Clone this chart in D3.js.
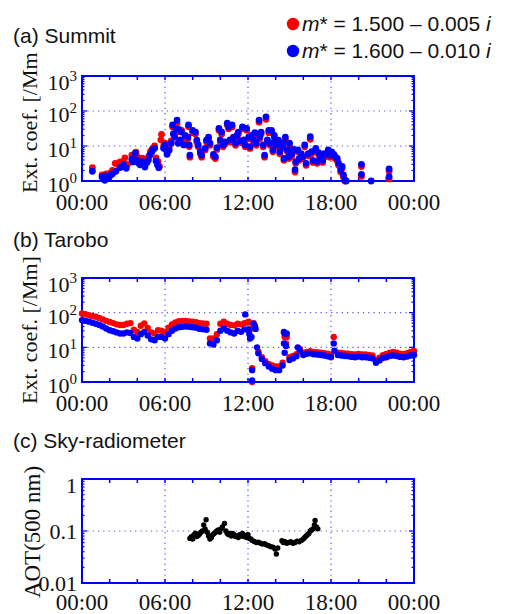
<!DOCTYPE html>
<html>
<head>
<meta charset="utf-8">
<script src="https://cdn.jsdelivr.net/npm/d3@7"></script>
<style>
  body { margin: 0; background: #fff; }
</style>
</head>
<body>
<div id="chart-area"></div>
<script>
const WIDTH = 507
const HEIGHT = 614
const LEFT = 82
const RIGHT = 414

// Time axis
const hourTicks = [0, 6, 12, 18, 24]
const hourLabels = ["00:00", "06:00", "12:00", "18:00", "00:00"]

const panelTitles = ["(a) Summit", "(b) Tarobo", "(c) Sky-radiometer"]
const legendLabels = [
    { m: "1.500", k: "0.005", color: "#ff0000" },
    { m: "1.600", k: "0.010", color: "#0000ff" }
]

// (a) Summit, [hour, ext. coef. /Mm]
const summitRed = [
    [0.75,2.4],[1.45,1.5],[1.6,1.3],[1.75,1.6],[1.95,1.5],[2.05,1.7],[2.2,2.0],[2.4,3.2],[2.6,3.0],[2.75,3.5],
    [2.95,3.6],[3.1,4.6],[3.3,3.0],[3.6,5.5],[3.75,4.4],[3.9,6.7],[4.0,5.0],[4.2,3.8],[4.35,4.5],[4.5,3.3],
    [4.7,4.4],[4.85,5.2],[4.95,7.0],[5.1,8.5],[5.25,10],[5.35,4.6],[5.5,3.6],[5.6,2.6],[5.7,15],[5.75,21.5],
    [5.9,10],[6.0,12],[6.15,7],[6.3,9],[6.45,14],[6.55,35],[6.7,20],[6.8,30],[6.87,45],[7.0,26],
    [7.1,14],[7.2,28],[7.35,12],[7.45,17],[7.7,36],[7.65,16],[7.75,9.6],[7.8,4.8],[8.0,24],[8.2,22],
    [8.3,13],[8.4,9.5],[8.55,6.0],[8.65,4.8],[8.9,7.7],[9.0,13],[9.15,16],[9.25,10.5],[9.5,5.0],[9.64,4.4],
    [9.75,8],[9.9,28],[10.0,13],[10.1,22],[10.2,9.5],[10.35,11.5],[10.5,40],[10.6,31],[10.7,13],[10.85,35],
    [10.95,16],[11.1,10.5],[11.2,17.5],[11.3,22],[11.45,12.5],[11.6,31],[11.7,13],[11.8,9.5],[11.9,28],[12.05,16],
    [12.15,8.5],[12.25,17.5],[12.4,13],[12.5,21],[12.6,10.5],[12.8,48],[12.85,16],[12.95,22],[13.1,9.5],[13.2,4.8],
    [13.3,58],[13.4,13],[13.5,24],[13.6,10.5],[13.7,24],[13.8,6.8],[13.9,17.5],[13.95,13],[14.05,9.5],[14.2,13],
    [14.3,6.0],[14.45,8.5],[14.55,10.5],[14.6,3.9],[14.7,15.5],[14.85,6.8],[14.95,4.4],[15.0,10.5],[15.15,5.0],[15.3,7],
    [15.4,1.8],[15.45,3.2],[15.6,6.8],[15.7,3.9],[15.85,5.2],[15.95,4.4],[16.1,9.5],[16.2,2.8],[16.35,5.2],[16.5,15.5],
    [16.6,6.0],[16.7,3.4],[16.9,7.5],[17.0,3.2],[17.1,5.7],[17.2,4.4],[17.4,3.4],[17.5,5.2],[17.6,5.0],[17.8,6.8],
    [17.9,4.8],[18.05,6.0],[18.2,5.0],[18.3,4.4],[18.45,3.8],[18.55,2.8],[18.7,1.8],[18.8,2.3],[18.9,1.3],[19.0,1.0],
    [20.2,2.6],[20.2,1.35],[22.2,1.9],[22.2,1.15]
]
const summitBlue = [
    [0.75,1.9],[1.45,1.3],[1.55,1.15],[1.65,1.05],[1.7,1.4],[1.8,1.2],[1.95,1.25],[2.1,1.5],[2.2,1.6],[2.45,1.9],
    [2.75,2.4],[3.0,2.9],[3.2,2.3],[3.6,4.2],[3.7,3.5],[3.85,6.2],[3.95,4.0],[4.1,3.2],[4.2,2.9],[4.35,3.6],
    [4.45,3.2],[4.55,2.5],[4.7,3.4],[4.8,4.0],[4.9,5.5],[5.05,6.8],[5.1,7.7],[5.25,8.6],[5.35,3.7],[5.45,2.9],
    [5.55,2.4],[5.9,8.6],[6.0,10.7],[6.1,7.5],[6.15,5.8],[6.3,7.6],[6.45,12],[6.55,40],[6.6,22],[6.7,18],
    [6.8,30],[6.87,55],[6.95,12],[7.0,30],[7.1,15],[7.2,25],[7.35,10.7],[7.45,20],[7.7,40],[7.65,18],
    [7.75,10.7],[7.8,5.5],[8.0,28],[8.2,25],[8.3,14.8],[8.4,10.7],[8.55,6.9],[8.65,5.5],[8.9,8.6],[9.0,14.8],
    [9.15,18],[9.25,12],[9.5,5.8],[9.64,5.0],[9.75,9],[9.9,32],[10.0,15],[10.1,25],[10.2,10.7],[10.35,13],
    [10.5,45],[10.6,35],[10.7,15],[10.85,40],[10.95,18],[11.1,12],[11.2,20],[11.3,25],[11.45,14],[11.6,35],
    [11.7,15],[11.8,10.7],[11.9,32],[12.05,18],[12.15,9.6],[12.25,20],[12.4,15],[12.5,24],[12.6,12],[12.8,55],
    [12.85,18],[12.95,25],[13.1,10.7],[13.2,5.5],[13.3,68],[13.4,15],[13.5,28],[13.6,12],[13.7,28],[13.8,7.7],
    [13.9,20],[13.95,15],[14.05,10.7],[14.2,14.8],[14.3,6.9],[14.45,9.6],[14.55,12],[14.6,4.4],[14.7,18],[14.85,7.7],
    [14.95,5],[15.0,12],[15.15,5.8],[15.3,8],[15.4,2.1],[15.45,3.6],[15.6,7.7],[15.7,4.4],[15.85,6],[15.95,5],
    [16.1,10.7],[16.2,3.2],[16.35,6],[16.5,18.5],[16.6,6.9],[16.7,3.9],[16.9,8.6],[17.0,3.6],[17.1,6.5],[17.2,5],
    [17.4,3.9],[17.5,6],[17.6,5.8],[17.8,7.7],[17.9,5.5],[18.05,6.8],[18.2,5.8],[18.3,5],[18.45,4.4],[18.55,3.2],
    [18.7,2.1],[18.8,2.6],[18.9,1.5],[19.0,1.07],[19.1,1.0],[20.2,3.0],[20.2,1.55],[20.9,1.0],[22.2,2.2],[22.2,1.33]
]

// (b) Tarobo, [hour, ext. coef. /Mm]
const taroboRed = [
    [0,95],[0.25,90],[0.5,84],[0.75,80],[1,76],[1.25,70],[1.5,64],[1.75,58],[2,54],[2.25,50],
    [2.5,46],[2.75,44],[3,44],[3.25,48],[3.5,50],[3.75,32],[4,28],[4.25,42],[4.5,49],[4.75,36],
    [5,27],[5.25,25],[5.5,31],[5.75,30],[6,28],[6.25,37],[6.5,46],[6.75,52],[7,57],[7.25,58],
    [7.5,58],[7.75,56],[8,55],[8.25,53],[8.5,50],[8.75,49],[9,48],[9.25,18],[9.5,18],[9.75,24],
    [10,48],[10.25,55],[10.5,48],[10.75,44],[11,43],[11.25,48],[11.5,46],[11.75,50],[12,52],[12.05,55],
    [12.25,35],[12.3,2.5],[12.3,1.0],[12.4,50],[12.5,42],[12.75,7.5],[13,5.2],[13.25,4.0],[13.5,3.3],[13.75,3.0],
    [14,2.8],[14.25,2.8],[14.5,3.6],[14.6,27],[14.65,20],[14.75,13],[14.8,20],[15,5.2],[15.25,5.6],[15.5,6.3],
    [15.75,9.0],[16,7.0],[16.25,7.4],[16.5,7.7],[16.75,7.4],[17,7.2],[17.25,7.0],[17.5,6.8],[17.75,6.5],[18,6.2],
    [18.2,20],[18.5,7.0],[18.75,6.9],[19,6.7],[19.25,6.5],[19.5,6.3],[19.75,6.2],[20,6.4],[20.25,6.2],[20.5,6.2],
    [20.75,6.0],[21,5.8],[21.25,4.3],[21.5,5.0],[21.75,5.9],[22,6.4],[22.25,7.0],[22.5,7.4],[22.75,7.0],[23,6.6],
    [23.25,6.4],[23.5,6.8],[23.75,7.4],[24,7.8]
]
const taroboBlue = [
    [0,61],[0.25,58],[0.5,55],[0.75,51],[1,48],[1.25,44],[1.5,40],[1.75,35],[2,31],[2.25,29],
    [2.5,27],[2.75,25],[3,25],[3.25,27],[3.5,26],[3.75,20],[4,18],[4.25,24],[4.5,28],[4.75,22],
    [5,17],[5.25,16],[5.5,20],[5.75,20],[6,18],[6.25,24],[6.5,30],[6.75,35],[7,38],[7.25,39],
    [7.5,40],[7.75,39],[8,38],[8.25,37],[8.5,34],[8.75,33],[9,32],[9.25,13],[9.5,12],[9.75,16],
    [10,30],[10.25,35],[10.5,30],[10.75,27],[11,25],[11.25,30],[11.5,28],[11.75,33],[11.8,89],[12,33],
    [12.05,30],[12.1,24],[12.15,18],[12.25,20],[12.3,2.2],[12.3,1.1],[12.4,48],[12.5,38],[12.55,34],[12.65,10],
    [12.75,6.7],[13,4.6],[13.25,3.5],[13.5,2.8],[13.75,2.4],[14,2.2],[14.25,2.2],[14.5,3.0],[14.6,28],[14.65,25],
    [14.6,13],[14.65,7],[14.75,11],[14.8,25],[15,4.3],[15.25,4.8],[15.5,5.5],[15.6,10],[15.75,8],[16,6.0],
    [16.25,6.5],[16.5,6.7],[16.75,6.3],[17,6.2],[17.25,6.0],[17.5,5.8],[17.75,5.5],[18,5.2],[18.2,13],[18.25,8],
    [18.5,6],[18.75,5.8],[19,5.6],[19.25,5.5],[19.5,5.3],[19.75,5.2],[20,5.4],[20.25,5.2],[20.5,5.2],[20.75,5.0],
    [21,4.8],[21.25,3.6],[21.5,4.2],[21.75,4.9],[22,5.2],[22.25,5.6],[22.5,5.8],[22.75,5.6],[23,5.3],[23.25,5.2],
    [23.5,5.4],[23.75,5.8],[24,6.0]
]

// (c) Sky-radiometer, [hour, AOT at 500 nm]
const skyAot = [
    [7.8,0.072],[7.9,0.078],[8.0,0.07],[8.1,0.085],[8.2,0.091],[8.3,0.078],[8.4,0.082],[8.5,0.088],[8.6,0.095],[8.7,0.1],
    [8.8,0.13],[8.9,0.11],[8.97,0.165],[9.05,0.095],[9.15,0.08],[9.25,0.07],[9.35,0.075],[9.45,0.085],[9.55,0.09],[9.65,0.095],
    [9.75,0.1],[9.85,0.105],[9.95,0.095],[10.05,0.11],[10.15,0.12],[10.3,0.14],[10.4,0.1],[10.5,0.09],[10.6,0.085],[10.7,0.09],
    [10.8,0.08],[10.9,0.09],[11.0,0.085],[11.1,0.078],[11.2,0.08],[11.3,0.075],[11.4,0.085],[11.5,0.08],[11.6,0.09],[11.7,0.078],
    [11.8,0.082],[11.9,0.075],[12.0,0.085],[12.1,0.072],[12.2,0.07],[12.3,0.066],[12.45,0.063],[12.6,0.06],[12.75,0.061],[12.9,0.058],
    [13.05,0.056],[13.2,0.057],[13.35,0.054],[13.5,0.052],[13.65,0.05],[13.8,0.049],[13.95,0.045],[14.05,0.036],[14.15,0.047],
    [14.45,0.065],[14.55,0.06],[14.65,0.063],[14.8,0.058],[14.95,0.06],[15.1,0.062],[15.25,0.058],[15.4,0.06],[15.55,0.064],[15.7,0.062],
    [15.85,0.066],[16.0,0.07],[16.1,0.075],[16.2,0.08],[16.3,0.085],[16.4,0.09],[16.5,0.1],[16.6,0.105],[16.7,0.11],[16.8,0.13],
    [16.85,0.16],[16.95,0.12],[17.05,0.11]
]

const SERIF = "'Liberation Serif', 'Times New Roman', serif"
const SANS = "'Liberation Sans', Arial, sans-serif"
const BLUE = "#0000ff"

const svg = d3.select("#chart-area").append("svg")
    .attr("width", WIDTH)
    .attr("height", HEIGHT)

svg.append("rect").attr("width", WIDTH).attr("height", HEIGHT).attr("fill", "#fff")

const x = d3.scaleLinear().domain([0, 24]).range([LEFT, RIGHT])

const isDecade = t => Math.abs(Math.log10(t) - Math.round(Math.log10(t))) < 1e-9

function drawPanel(cfg) {
    const y = d3.scaleLog().domain(cfg.domain).range([cfg.bottom, cfg.top])
    const g = svg.append("g")
    const allTicks = y.ticks()
    const majors = allTicks.filter(isDecade)
    const minors = allTicks.filter(t => !isDecade(t))

    // grid (dotted)
    g.selectAll(".vgrid").data(hourTicks.slice(1, -1)).enter().append("line")
        .attr("x1", d => x(d)).attr("x2", d => x(d))
        .attr("y1", cfg.top).attr("y2", cfg.bottom)
        .attr("stroke", "#5a5aff").attr("stroke-width", 1.2)
        .attr("stroke-dasharray", "1.3,4")
    g.selectAll(".hgrid").data(majors.slice(1, -1)).enter().append("line")
        .attr("x1", LEFT).attr("x2", RIGHT)
        .attr("y1", d => y(d)).attr("y2", d => y(d))
        .attr("stroke", "#5a5aff").attr("stroke-width", 1.2)
        .attr("stroke-dasharray", "1.3,4")

    // x ticks every 2 h, inside the box
    const xt = d3.range(0, 25, 2)
    g.selectAll(".xtb").data(xt).enter().append("line")
        .attr("x1", d => x(d)).attr("x2", d => x(d))
        .attr("y1", cfg.bottom).attr("y2", cfg.bottom - 4)
        .attr("stroke", BLUE).attr("stroke-width", 1.5)
    g.selectAll(".xtt").data(xt).enter().append("line")
        .attr("x1", d => x(d)).attr("x2", d => x(d))
        .attr("y1", cfg.top).attr("y2", cfg.top + 4)
        .attr("stroke", BLUE).attr("stroke-width", 1.5)

    // y ticks both sides
    const yt = majors.map(t => ({ t, len: 5 })).concat(minors.map(t => ({ t, len: 2.5 })))
    ;[[LEFT, 1], [RIGHT, -1]].forEach(([x0, dir]) => {
        g.selectAll(null).data(yt).enter().append("line")
            .attr("x1", x0).attr("x2", d => x0 + dir * d.len)
            .attr("y1", d => y(d.t)).attr("y2", d => y(d.t))
            .attr("stroke", BLUE).attr("stroke-width", 1.2)
    })

    // frame
    g.append("rect")
        .attr("x", LEFT).attr("y", cfg.top)
        .attr("width", RIGHT - LEFT).attr("height", cfg.bottom - cfg.top)
        .attr("fill", "none").attr("stroke", BLUE).attr("stroke-width", 2)

    // x tick labels
    g.selectAll(".xl").data(hourTicks).enter().append("text")
        .attr("x", d => x(d))
        .attr("y", cfg.bottom + cfg.xlabelDy)
        .attr("text-anchor", "middle")
        .attr("font-family", SERIF).attr("font-size", 23)
        .attr("fill", "#111")
        .text((d, i) => hourLabels[i])

    // y tick labels
    const yl = g.selectAll(".yl").data(majors).enter().append("text")
        .attr("x", 77)
        .attr("y", d => Math.max(y(d) + cfg.labelDy, cfg.top + cfg.topDy))
        .attr("text-anchor", "end")
        .attr("font-family", SERIF).attr("font-size", 22)
        .attr("fill", "#111")
    if (cfg.power) {
        yl.each(function(d) {
            const t = d3.select(this)
            t.append("tspan").text("10")
            t.append("tspan").attr("dy", -9).attr("font-size", 15).text(Math.round(Math.log10(d)))
        })
    } else {
        yl.text(d => d3.format("~g")(d))
    }

    // y axis label
    svg.append("text")
        .attr("transform", `translate(${cfg.labelX}, ${cfg.labelY}) rotate(-90)`)
        .attr("text-anchor", "middle")
        .attr("font-family", SERIF).attr("font-size", cfg.labelSize)
        .attr("fill", "#111")
        .text(cfg.label)

    // data
    cfg.series.forEach(s => {
        g.selectAll(null).data(s.data).enter().append("circle")
            .attr("cx", d => x(d[0]))
            .attr("cy", d => y(d[1]))
            .attr("r", s.r)
            .attr("fill", s.color)
    })
}

drawPanel({
    top: 76, bottom: 181, domain: [1, 1000], power: true, labelDy: 11, topDy: 14, xlabelDy: 29,
    label: "Ext. coef. [/Mm]", labelX: 37, labelY: 119, labelSize: 22,
    series: [{ data: summitRed, color: "#ff0000", r: 3.4 }, { data: summitBlue, color: BLUE, r: 3.4 }]
})
drawPanel({
    top: 278, bottom: 382, domain: [1, 1000], power: true, labelDy: 11, topDy: 14, xlabelDy: 29,
    label: "Ext. coef. [/Mm]", labelX: 37, labelY: 330, labelSize: 22,
    series: [{ data: taroboRed, color: "#ff0000", r: 3.2 }, { data: taroboBlue, color: BLUE, r: 3.2 }]
})
drawPanel({
    top: 479, bottom: 583, domain: [0.01, 1], power: false, labelDy: 7.5, topDy: 14, xlabelDy: 27,
    label: "AOT(500 nm)", labelX: 40, labelY: 532, labelSize: 23,
    series: [{ data: skyAot, color: "#000", r: 2.7 }]
})

// title / legend block (white, sits over the top of the first axis label)
svg.append("rect").attr("x", 0).attr("y", 0).attr("width", 280).attr("height", 52).attr("fill", "#fff")

const titleY = [43, 247, 448]
panelTitles.forEach((t, i) => {
    svg.append("text")
        .attr("x", 13).attr("y", titleY[i])
        .attr("font-family", SANS).attr("font-size", 21)
        .attr("fill", "#111")
        .text(t)
})

// legend
legendLabels.forEach((d, i) => {
    const ly = 24 + i * 27
    svg.append("circle").attr("cx", 293).attr("cy", ly).attr("r", 6.2).attr("fill", d.color)
    const t = svg.append("text")
        .attr("x", 302).attr("y", ly + 7)
        .attr("font-family", SANS).attr("font-size", 21)
        .attr("fill", "#111")
    t.append("tspan").attr("font-style", "italic").text("m")
    t.append("tspan").text(`* = ${d.m} \u2013 ${d.k} `)
    t.append("tspan").attr("font-style", "italic").text("i")
})
</script>
</body>
</html>
